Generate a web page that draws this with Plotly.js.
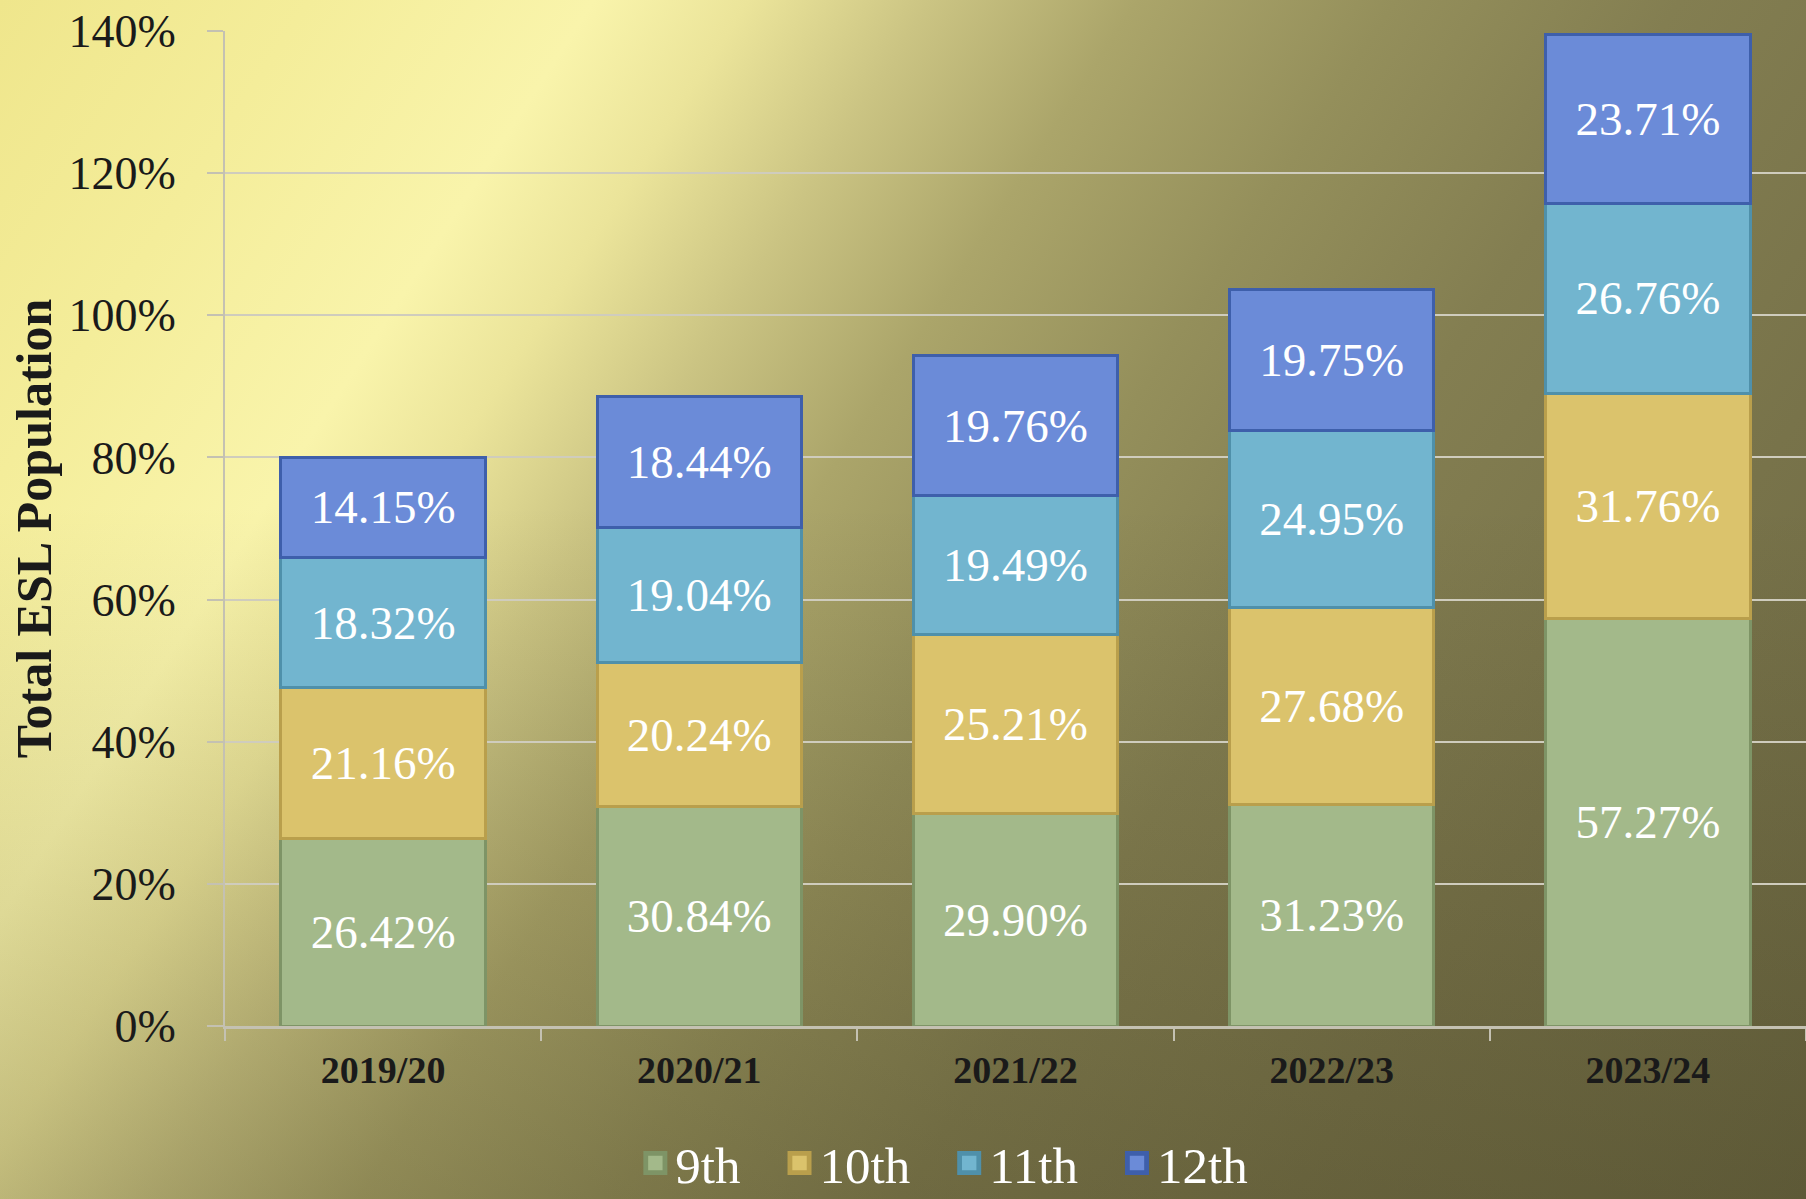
<!DOCTYPE html>
<html>
<head>
<meta charset="utf-8">
<script src="https://cdn.plot.ly/plotly-3.0.1.min.js"></script>
<style>
  html, body { margin: 0; padding: 0; width: 1806px; height: 1199px; overflow: hidden; }
  body {
    background:
      linear-gradient(180deg, rgba(0,0,0,0) 42%, rgba(40,35,10,0.22) 100%),
      linear-gradient(123deg, #efe68c 0%, #f4ed9a 12%, #f9f4ab 23%, #ebe49a 29%, #cbc483 36%, #aba56a 44%, #948f5b 54%, #837e51 65%, #78734a 80%, #6c6843 100%);
  }
  #chart { width: 1806px; height: 1199px; }
</style>
</head>
<body>
<div id="chart"></div>
<script>
const years = ["2019/20", "2020/21", "2021/22", "2022/23", "2023/24"];
const grade9  = [26.42, 30.84, 29.90, 31.23, 57.27];
const grade10 = [21.16, 20.24, 25.21, 27.68, 31.76];
const grade11 = [18.32, 19.04, 19.49, 24.95, 26.76];
const grade12 = [14.15, 18.44, 19.76, 19.75, 23.71];
const seriesNames = ["9th", "10th", "11th", "12th"];
const yTickVals = [0, 20, 40, 60, 80, 100, 120, 140];
const yTickText = ["0%", "20%", "40%", "60%", "80%", "100%", "120%", "140%"];

const fills = ["#a3b98a", "#dbc36c", "#72b5cf", "#6b8bd8"];
const edges = ["#7e9466", "#b99f4c", "#4f90aa", "#3e5fab"];
const seriesData = [grade9, grade10, grade11, grade12];

const FONT = "Liberation Serif, Times New Roman, serif";

const traces = seriesData.map((vals, i) => ({
  type: "bar",
  name: seriesNames[i],
  x: years,
  y: vals,
  marker: { color: fills[i], line: { color: edges[i], width: 3 } },
  texttemplate: "%{y:.2f}%",
  textposition: "inside",
  insidetextanchor: "middle",
  textangle: 0,
  constraintext: "none",
  textfont: { family: FONT, size: 47, color: "#ffffff" },
  hoverinfo: "skip"
}));

const layout = {
  width: 1806,
  height: 1199,
  barmode: "stack",
  bargap: 0.353,
  paper_bgcolor: "rgba(0,0,0,0)",
  plot_bgcolor: "rgba(0,0,0,0)",
  margin: { l: 225, r: 0, t: 31, b: 173, autoexpand: false },
  font: { family: FONT, color: "#1a1a1a" },
  xaxis: {
    type: "category",
    range: [-0.5, 4.5],
    showgrid: false,
    showline: true,
    linecolor: "#c4c1b2",
    linewidth: 3,
    ticks: "outside",
    tickson: "boundaries",
    ticklen: 12,
    tickwidth: 2,
    tickcolor: "#c4c1b2",
    tickfont: { family: FONT, size: 38, color: "#1a1a1a", weight: "bold" },
    ticklabelstandoff: 8
  },
  yaxis: {
    range: [0, 140],
    tickmode: "array",
    tickvals: yTickVals,
    ticktext: yTickText,
    showgrid: true,
    gridcolor: "#cfccbd",
    gridwidth: 2,
    zeroline: false,
    showline: true,
    linecolor: "#c4c1b2",
    linewidth: 2,
    ticks: "outside",
    ticklen: 16,
    tickwidth: 2,
    tickcolor: "#c4c1b2",
    tickfont: { family: FONT, size: 46, color: "#1a1a1a" },
    ticklabelstandoff: 22,
    title: {
      text: "Total ESL Population",
      font: { family: FONT, size: 50, color: "#1a1a1a", weight: "bold" },
      standoff: 1
    }
  },
  showlegend: true,
  legend: {
    orientation: "h",
    x: 0.455,
    xanchor: "center",
    y: -0.138,
    yanchor: "middle",
    font: { family: FONT, size: 51, color: "#ffffff" },
    bgcolor: "rgba(0,0,0,0)",
    traceorder: "normal"
  }
};

Plotly.newPlot("chart", traces, layout, { displayModeBar: false, staticPlot: true }).then(() => {
  document.querySelectorAll(".legendpoints path").forEach(p => {
    const t = p.getAttribute("transform") || "";
    p.setAttribute("transform", t + " scale(1.6)");
  });
  // widen spacing between legend entries
  document.querySelectorAll(".legend .scrollbox, .legend").forEach(el => el.removeAttribute("clip-path"));
  const items = document.querySelectorAll(".legend .traces");
  const extra = 34;
  const n = items.length;
  items.forEach((g, i) => {
    const t = g.getAttribute("transform") || "";
    const m = /translate\(\s*([-\d.]+)[ ,]+([-\d.]+)\s*\)/.exec(t);
    if (m) {
      const nx = parseFloat(m[1]) + (i - (n - 1) / 2) * extra;
      g.setAttribute("transform", "translate(" + nx + "," + m[2] + ")");
    }
  });
});
</script>
</body>
</html>
